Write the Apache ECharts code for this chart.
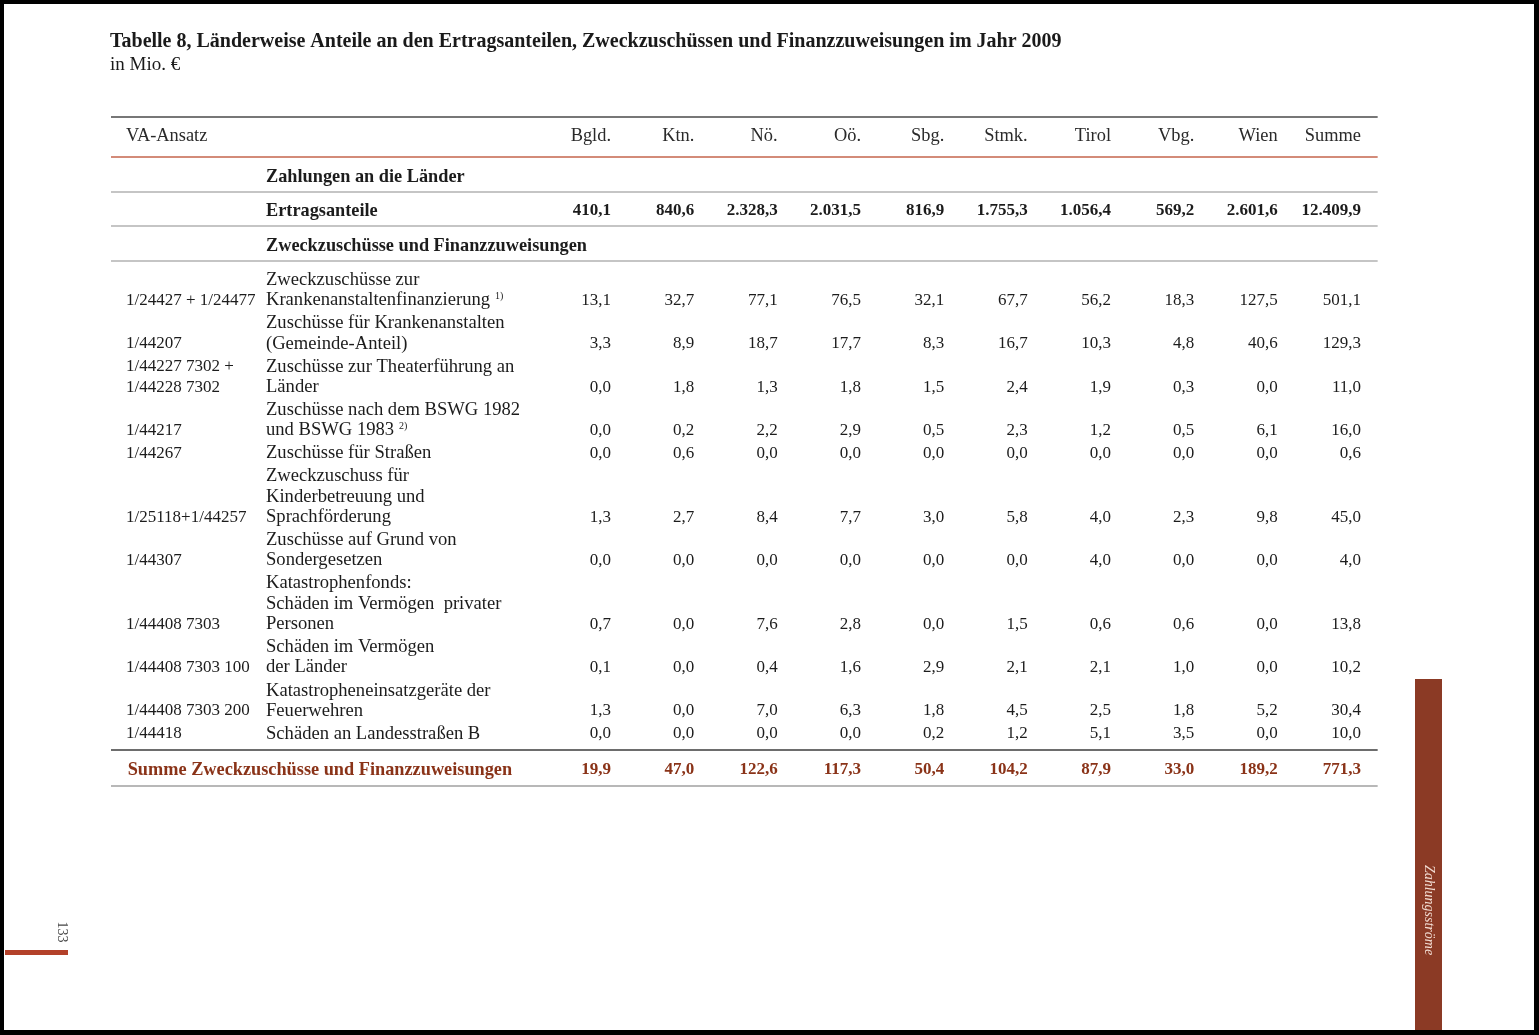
<!DOCTYPE html>
<html><head><meta charset="utf-8">
<script src="https://cdn.jsdelivr.net/npm/echarts@6/dist/echarts.min.js"></script>
<style>html,body{margin:0;padding:0;background:#fff;overflow:hidden}#c{width:1539px;height:1035px}</style>
</head><body><div id="c"></div>
<script>
// ---------------- DATA ----------------
const titleText = 'Tabelle 8, Länderweise Anteile an den Ertragsanteilen, Zweckzuschüssen und Finanzzuweisungen im Jahr 2009';
const unitText = 'in Mio. €';
const columns = ['Bgld.', 'Ktn.', 'Nö.', 'Oö.', 'Sbg.', 'Stmk.', 'Tirol', 'Vbg.', 'Wien', 'Summe'];
const firstHeader = 'VA-Ansatz';
const groupHeading1 = 'Zahlungen an die Länder';
const ertragLabel = 'Ertragsanteile';
const ertragsanteile = [410.1, 840.6, 2328.3, 2031.5, 816.9, 1755.3, 1056.4, 569.2, 2601.6, 12409.9];
const groupHeading2 = 'Zweckzuschüsse und Finanzzuweisungen';

const vaCodes = [
  ['1/24427 + 1/24477'],
  ['1/44207'],
  ['1/44227 7302 +', '1/44228 7302'],
  ['1/44217'],
  ['1/44267'],
  ['1/25118+1/44257'],
  ['1/44307'],
  ['1/44408 7303'],
  ['1/44408 7303 100'],
  ['1/44408 7303 200'],
  ['1/44418']
];
const descriptions = [
  ['Zweckzuschüsse zur', 'Krankenanstaltenfinanzierung'],
  ['Zuschüsse für Krankenanstalten', '(Gemeinde-Anteil)'],
  ['Zuschüsse zur Theaterführung an', 'Länder'],
  ['Zuschüsse nach dem BSWG 1982', 'und BSWG 1983'],
  ['Zuschüsse für Straßen'],
  ['Zweckzuschuss für', 'Kinderbetreuung und', 'Sprachförderung'],
  ['Zuschüsse auf Grund von', 'Sondergesetzen'],
  ['Katastrophenfonds:', 'Schäden im Vermögen  privater', 'Personen'],
  ['Schäden im Vermögen', 'der Länder'],
  ['Katastropheneinsatzgeräte der', 'Feuerwehren'],
  ['Schäden an Landesstraßen B']
];
const footnotes = ['1)', '', '', '2)', '', '', '', '', '', '', ''];

const bgld  = [13.1, 3.3, 0.0, 0.0, 0.0, 1.3, 0.0, 0.7, 0.1, 1.3, 0.0];
const ktn   = [32.7, 8.9, 1.8, 0.2, 0.6, 2.7, 0.0, 0.0, 0.0, 0.0, 0.0];
const noe   = [77.1, 18.7, 1.3, 2.2, 0.0, 8.4, 0.0, 7.6, 0.4, 7.0, 0.0];
const ooe   = [76.5, 17.7, 1.8, 2.9, 0.0, 7.7, 0.0, 2.8, 1.6, 6.3, 0.0];
const sbg   = [32.1, 8.3, 1.5, 0.5, 0.0, 3.0, 0.0, 0.0, 2.9, 1.8, 0.2];
const stmk  = [67.7, 16.7, 2.4, 2.3, 0.0, 5.8, 0.0, 1.5, 2.1, 4.5, 1.2];
const tirol = [56.2, 10.3, 1.9, 1.2, 0.0, 4.0, 4.0, 0.6, 2.1, 2.5, 5.1];
const vbg   = [18.3, 4.8, 0.3, 0.5, 0.0, 2.3, 0.0, 0.6, 1.0, 1.8, 3.5];
const wien  = [127.5, 40.6, 0.0, 6.1, 0.0, 9.8, 0.0, 0.0, 0.0, 5.2, 0.0];
const summe = [501.1, 129.3, 11.0, 16.0, 0.6, 45.0, 4.0, 13.8, 10.2, 30.4, 10.0];

const sumLabel = 'Summe Zweckzuschüsse und Finanzzuweisungen';
const sumRow = [19.9, 47.0, 122.6, 117.3, 50.4, 104.2, 87.9, 33.0, 189.2, 771.3];

const pageNumber = '133';
const sideLabel = 'Zahlungsströme';

// ---------------- LAYOUT / STYLE ----------------
const FONT = '"Liberation Serif", "DejaVu Serif", serif';
const FS_TEXT = 18.6;   // descriptive text
const FS_BOLD = 18.3;   // bold headings
const FS_HEAD = 18.4;   // column headers
const FS_NUM = 17;      // numbers and VA codes
const TXT = '#1c1c1c';
const SUMC = '#8a3318';
const X = { min: -6, max: 9.2, va: -5.82, desc: -4.14 };
const L = { topRule: 117, header: 136, redRule: 157, g1: 177, r1: 192, ertrag: 211, r2: 226, g2: 246, r3: 261,
            firstLine: 280, pitch: 20.3, rowGap: 23.07 };

const valueCols = [bgld, ktn, noe, ooe, sbg, stmk, tirol, vbg, wien, summe];

// row line positions (derived from number of text lines per row)
const rowLines = [];
(function () {
  let y = L.firstLine;
  descriptions.forEach(lines => {
    const ys = lines.map((_, k) => y + k * L.pitch);
    rowLines.push(ys);
    y = ys[ys.length - 1] + L.rowGap;
  });
})();
const lastLine = rowLines[rowLines.length - 1].slice(-1)[0];
const sumRuleTop = lastLine + 16, sumTextY = lastLine + 36, sumRuleBottom = lastLine + 52;

function fmt(v) {
  const s = v.toFixed(1).split('.');
  const int = s[0].replace(/\B(?=(\d{3})+(?!\d))/g, '.');
  return int + ',' + s[1];
}
const mctx = document.createElement('canvas').getContext('2d');
function tw(t, font) { mctx.font = font; return mctx.measureText(t).width; }

// rules
const rules = [
  [L.topRule, '#4a4a4a', 1.6],
  [L.redRule, '#c4644c', 1.4],
  [L.r1, '#8c8c8c', 1.2],
  [L.r2, '#8c8c8c', 1.2],
  [L.r3, '#8c8c8c', 1.2],
  [sumRuleTop, '#3c3c3c', 1.6],
  [sumRuleBottom, '#a0a0a0', 1.3]
];

// text labels (x in axis units, y in layout units)
const labels = [];
labels.push({ x: X.va, y: L.header, t: firstHeader, w: 'normal', s: FS_HEAD, c: '#2a2a2a', a: 'left' });
columns.forEach((h, i) => labels.push({ x: i, y: L.header, t: h, w: 'normal', s: FS_HEAD, c: '#2a2a2a', a: 'right' }));
labels.push({ x: X.desc, y: L.g1, t: groupHeading1, w: 'bold', s: FS_BOLD, c: TXT, a: 'left' });
labels.push({ x: X.desc, y: L.ertrag, t: ertragLabel, w: 'bold', s: FS_BOLD, c: TXT, a: 'left' });
labels.push({ x: X.desc, y: L.g2, t: groupHeading2, w: 'bold', s: FS_BOLD, c: TXT, a: 'left' });
descriptions.forEach((lines, r) => {
  lines.forEach((ln, k) => {
    labels.push({ x: X.desc, y: rowLines[r][k], t: ln, w: 'normal', s: FS_TEXT, c: TXT, a: 'left',
                  note: (k === lines.length - 1) ? footnotes[r] : '' });
  });
  const codes = vaCodes[r];
  const ys = rowLines[r];
  codes.forEach((cd, k) => {
    labels.push({ x: X.va, y: ys[ys.length - codes.length + k], t: cd, w: 'normal', s: FS_NUM, c: TXT, a: 'left' });
  });
});
labels.push({ x: X.va + 0.02, y: sumTextY, t: sumLabel, w: 'bold', s: FS_BOLD, c: SUMC, a: 'left' });

// numeric cells: [column, y, value, kind]
const cells = [];
ertragsanteile.forEach((v, c) => cells.push([c, L.ertrag, v, 1]));
valueCols.forEach((col, c) => col.forEach((v, r) => {
  const ys = rowLines[r];
  cells.push([c, ys[ys.length - 1], v, 0]);
}));
sumRow.forEach((v, c) => cells.push([c, sumTextY, v, 2]));

// ---------------- CHART ----------------
const chart = echarts.init(document.getElementById('c'), null, { renderer: 'canvas' });
const W = 1539, H = 1035;
const unit = (1361 - 611) / 9;
const gridLeft = 611 + X.min * unit;
const gridRight = W - (611 + X.max * unit);

chart.setOption({
  backgroundColor: '#ffffff',
  animation: false,
  title: {
    text: titleText, subtext: unitText, left: 105, top: 27, itemGap: 4,
    textStyle: { fontFamily: FONT, fontSize: 20, fontWeight: 'bold', color: '#1a1a1a' },
    subtextStyle: { fontFamily: FONT, fontSize: 19, color: '#1a1a1a' }
  },
  grid: { left: gridLeft, right: gridRight, top: 0, bottom: 0 },
  xAxis: { type: 'value', min: X.min, max: X.max, show: false },
  yAxis: { type: 'value', min: 0, max: H, inverse: true, show: false },
  graphic: [
    { type: 'rect', shape: { x: 0, y: 0, width: W, height: 4 }, style: { fill: '#000' } },
    { type: 'rect', shape: { x: 0, y: 0, width: 4, height: H }, style: { fill: '#000' } },
    { type: 'rect', shape: { x: W - 5, y: 0, width: 5, height: H }, style: { fill: '#000' } },
    { type: 'rect', shape: { x: 0, y: H - 5, width: W, height: 5 }, style: { fill: '#000' } },
    { type: 'rect', shape: { x: 5, y: 950, width: 63, height: 5 }, style: { fill: '#b3412a' } },
    { type: 'text', x: 62, y: 932, rotation: -Math.PI / 2,
      style: { text: pageNumber, font: '14px ' + FONT, fill: '#444', align: 'center', verticalAlign: 'middle' } },
    { type: 'rect', shape: { x: 1415, y: 679, width: 27, height: 351 }, style: { fill: '#8b3a25' } },
    { type: 'text', x: 1428.5, y: 910, rotation: -Math.PI / 2,
      style: { text: sideLabel, font: 'italic 14px ' + FONT, fill: '#f2dcd2', align: 'center', verticalAlign: 'middle' } }
  ],
  series: [
    {
      type: 'custom', name: 'rules', silent: true,
      data: rules.map(r => [X.min, r[0]]),
      renderItem: function (params, api) {
        const r = rules[params.dataIndex];
        const p0 = api.coord([X.min, api.value(1)]);
        const p1 = api.coord([X.max, api.value(1)]);
        return { type: 'line', shape: { x1: p0[0], y1: p0[1], x2: p1[0], y2: p1[1] },
                 style: { stroke: r[1], lineWidth: r[2] } };
      }
    },
    {
      type: 'custom', name: 'labels', silent: true,
      data: labels.map(l => [l.x, l.y]),
      renderItem: function (params, api) {
        const l = labels[params.dataIndex];
        const p = api.coord([api.value(0), api.value(1)]);
        const font = l.w + ' ' + l.s + 'px ' + FONT;
        const children = [{ type: 'text', x: p[0], y: p[1],
          style: { text: l.t, font: font, fill: l.c, align: l.a, verticalAlign: 'middle' } }];
        if (l.note) {
          children.push({ type: 'text', x: p[0] + tw(l.t, font) + 5, y: p[1] - 4,
            style: { text: l.note, font: '10px ' + FONT, fill: l.c, align: 'left', verticalAlign: 'middle' } });
        }
        return { type: 'group', children: children };
      }
    },
    {
      type: 'custom', name: 'cells', silent: true,
      data: cells,
      renderItem: function (params, api) {
        const p = api.coord([api.value(0), api.value(1)]);
        const kind = api.value(3);
        const bold = kind > 0;
        return { type: 'text', x: p[0], y: p[1],
          style: { text: fmt(api.value(2)), font: (bold ? 'bold ' : '') + FS_NUM + 'px ' + FONT,
                   fill: kind === 2 ? SUMC : TXT, align: 'right', verticalAlign: 'middle' } };
      }
    }
  ]
});
</script>
</body></html>
